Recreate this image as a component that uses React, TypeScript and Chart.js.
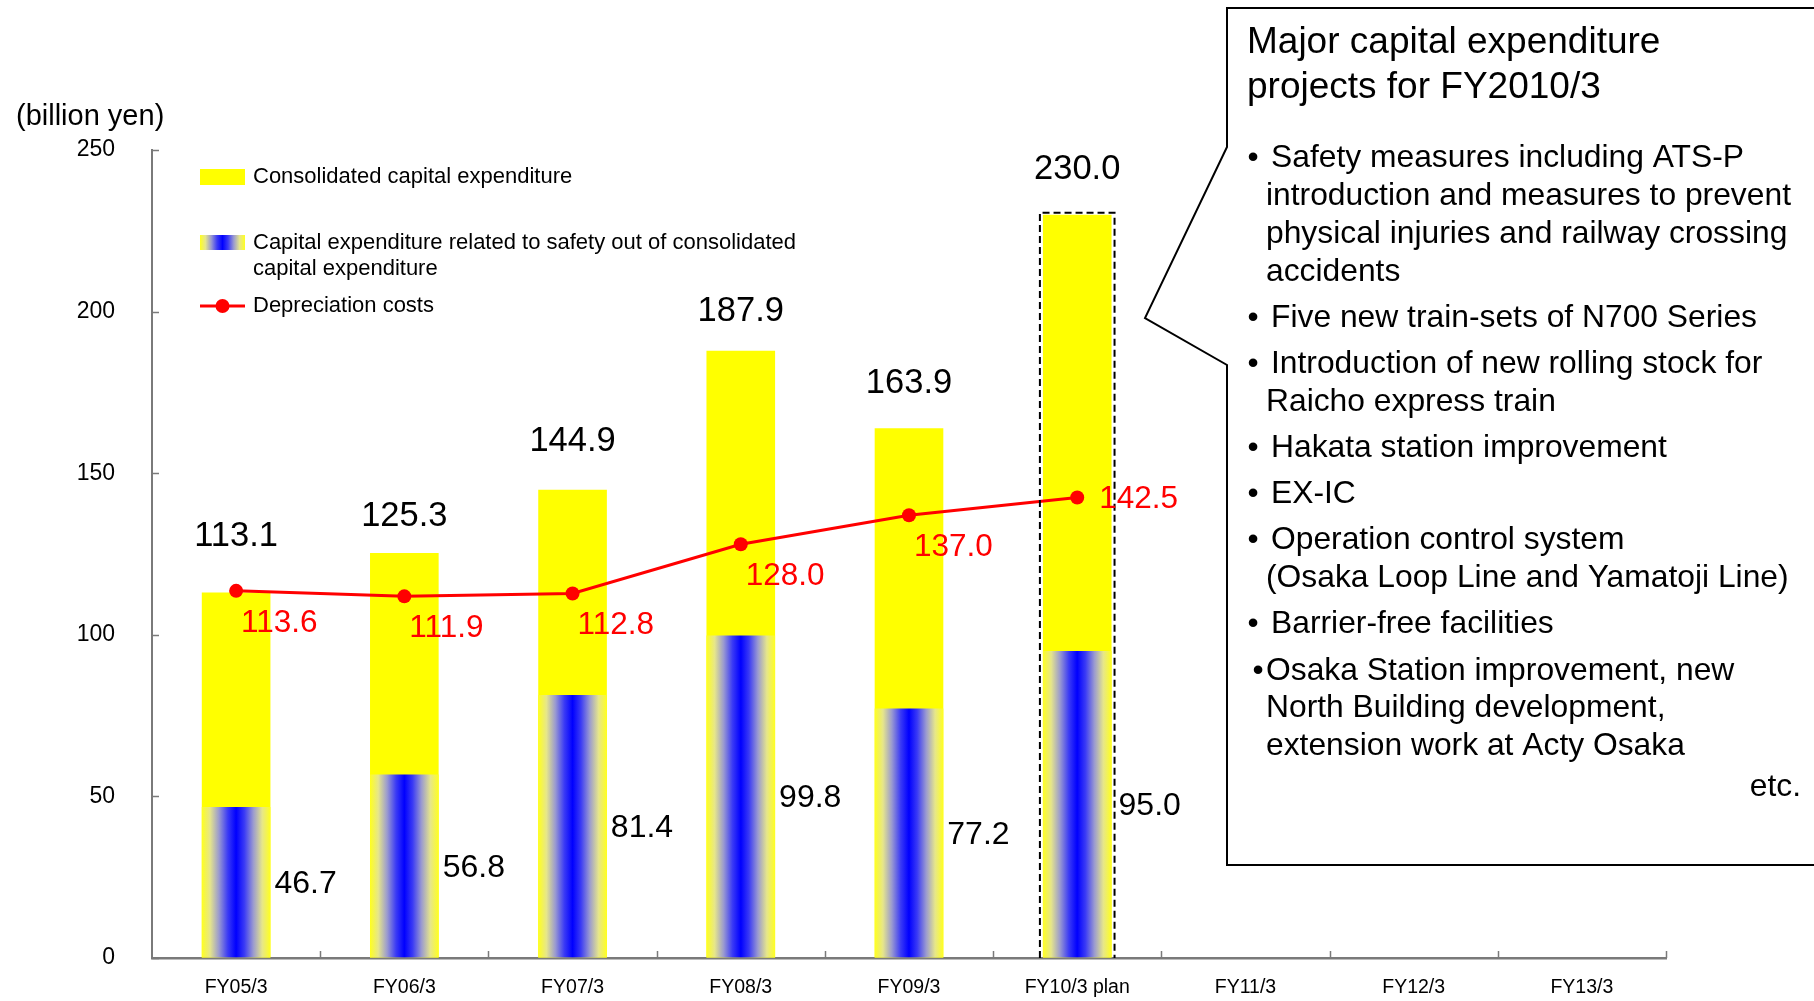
import { useEffect, useRef } from 'react';
import { Chart, registerables } from 'chart.js';

Chart.register(...registerables);

// ---- data ----
const categories = ['FY05/3', 'FY06/3', 'FY07/3', 'FY08/3', 'FY09/3', 'FY10/3 plan', 'FY11/3', 'FY12/3', 'FY13/3'];
const consolidatedCapex = [113.1, 125.3, 144.9, 187.9, 163.9, 230.0, null, null, null];
const safetyCapex = [46.7, 56.8, 81.4, 99.8, 77.2, 95.0, null, null, null];
const depreciationCosts = [113.6, 111.9, 112.8, 128.0, 137.0, 142.5, null, null, null];
const yTicks = [0, 50, 100, 150, 200, 250];
const PLAN_INDEX = 5;

const seriesNames = [
  ['Consolidated capital expenditure'],
  ['Capital expenditure related to safety out of consolidated', 'capital expenditure'],
  ['Depreciation costs'],
];

const calloutTitle = ['Major capital expenditure', 'projects for FY2010/3'];
const calloutItems = [
  ['Safety measures including ATS-P', 'introduction and measures to prevent', 'physical injuries and railway crossing', 'accidents'],
  ['Five new train-sets of N700 Series'],
  ['Introduction of new rolling stock for', 'Raicho express train'],
  ['Hakata station improvement'],
  ['EX-IC'],
  ['Operation control system', '(Osaka Loop Line and Yamatoji Line)'],
  ['Barrier-free facilities'],
  ['Osaka Station improvement, new', 'North Building development,', 'extension work at Acty Osaka'],
];

// ---- styling ----
const W = 1814;
const H = 1001;
const FONT = '"Liberation Sans", Arial, Helvetica, sans-serif';
const BAR_PCT = 0.408;
const YELLOW = '#ffff00';
const RED = '#ff0000';
const AXIS_GREY = '#7a7a7a';
// gap (px) between the top of each total bar and the centre of its value label
const totalLabelLift = [56, 37, 48, 39, 45, 45];

function safetyGradient(ctx: CanvasRenderingContext2D, x0: number, x1: number) {
  const g = ctx.createLinearGradient(x0, 0, x1, 0);
  g.addColorStop(0, '#ffff20');
  g.addColorStop(0.12, '#e6e68a');
  g.addColorStop(0.25, '#9a9ad0');
  g.addColorStop(0.38, '#3a3af5');
  g.addColorStop(0.5, '#0000ff');
  g.addColorStop(0.62, '#3a3af5');
  g.addColorStop(0.75, '#9a9ad0');
  g.addColorStop(0.88, '#e6e68a');
  g.addColorStop(1, '#ffff20');
  return g;
}

const safetyFill = (c: any) => {
  const chart = c.chart;
  const xs = chart.scales?.x;
  if (!chart.chartArea || !xs || c.type !== 'data') return '#0000ff';
  const cx = xs.getPixelForValue(c.dataIndex);
  const half = (xs.width / categories.length) * BAR_PCT / 2;
  return safetyGradient(chart.ctx, cx - half, cx + half);
};

const decorPlugin = {
  id: 'decor',
  afterDatasetsDraw(chart: any) {
    const { ctx, chartArea } = chart;
    const xs = chart.scales.x;
    const ys = chart.scales.y;
    const { bottom, left } = chartArea;

    ctx.save();
    // inward tick marks on both axes
    ctx.strokeStyle = AXIS_GREY;
    ctx.lineWidth = 1.5;
    for (let i = 1; i <= categories.length; i++) {
      const px = Math.round(xs.getPixelForValue(i - 0.5)) + 0.5;
      ctx.beginPath();
      ctx.moveTo(px, bottom);
      ctx.lineTo(px, bottom - 7);
      ctx.stroke();
    }
    yTicks.forEach((v) => {
      const py = Math.round(ys.getPixelForValue(v)) + 0.5;
      ctx.beginPath();
      ctx.moveTo(left, py);
      ctx.lineTo(left + 7, py);
      ctx.stroke();
    });

    const lineMeta = chart.getDatasetMeta(0);
    const safetyMeta = chart.getDatasetMeta(1);
    const totalMeta = chart.getDatasetMeta(2);

    // dashed outline around the planned year
    const plan = totalMeta.data[PLAN_INDEX];
    if (plan) {
      const l = plan.x - plan.width / 2 - 3;
      const r = plan.x + plan.width / 2 + 3;
      const t = plan.y - 2;
      ctx.strokeStyle = '#000';
      ctx.lineWidth = 2;
      ctx.setLineDash([7, 4]);
      ctx.beginPath();
      ctx.moveTo(l, bottom);
      ctx.lineTo(l, t);
      ctx.lineTo(r, t);
      ctx.lineTo(r, bottom);
      ctx.stroke();
      ctx.setLineDash([]);
    }

    ctx.textBaseline = 'middle';
    // totals above the bars
    ctx.fillStyle = '#000';
    ctx.textAlign = 'center';
    ctx.font = `34.5px ${FONT}`;
    totalMeta.data.forEach((el: any, i: number) => {
      const v = consolidatedCapex[i];
      if (v == null) return;
      ctx.fillText(v.toFixed(1), el.x, el.y - (totalLabelLift[i] ?? 45));
    });

    // safety values beside the gradient bars
    ctx.textAlign = 'left';
    ctx.font = `32px ${FONT}`;
    safetyMeta.data.forEach((el: any, i: number) => {
      const v = safetyCapex[i];
      if (v == null) return;
      const extra = i === PLAN_INDEX ? 7 : 4;
      ctx.fillText(v.toFixed(1), el.x + el.width / 2 + extra, (el.y + el.base) / 2 + 2);
    });

    // depreciation values in red
    ctx.fillStyle = RED;
    ctx.font = `31.5px ${FONT}`;
    lineMeta.data.forEach((el: any, i: number) => {
      const v = depreciationCosts[i];
      if (v == null) return;
      if (i === PLAN_INDEX) ctx.fillText(v.toFixed(1), el.x + 22, el.y + 2);
      else ctx.fillText(v.toFixed(1), el.x + 5, el.y + 32);
    });
    ctx.restore();
  },
  afterDraw(chart: any) {
    const { ctx } = chart;
    ctx.save();
    ctx.textBaseline = 'middle';
    ctx.textAlign = 'left';
    ctx.fillStyle = '#000';

    // unit caption
    ctx.font = `29px ${FONT}`;
    ctx.fillText('(billion yen)', 16, 117);

    // legend
    ctx.font = `22px ${FONT}`;
    ctx.fillStyle = YELLOW;
    ctx.fillRect(200, 169, 45, 16);
    ctx.fillStyle = safetyGradient(ctx, 200, 245);
    ctx.fillRect(200, 235, 45, 15);
    ctx.strokeStyle = RED;
    ctx.lineWidth = 3;
    ctx.beginPath();
    ctx.moveTo(200, 306);
    ctx.lineTo(245, 306);
    ctx.stroke();
    ctx.fillStyle = RED;
    ctx.beginPath();
    ctx.arc(222.5, 306, 7, 0, Math.PI * 2);
    ctx.fill();
    ctx.fillStyle = '#000';
    ctx.fillText(seriesNames[0][0], 253, 177);
    ctx.fillText(seriesNames[1][0], 253, 243);
    ctx.fillText(seriesNames[1][1], 253, 269);
    ctx.fillText(seriesNames[2][0], 253, 306);

    // callout box with pointer
    ctx.strokeStyle = '#000';
    ctx.lineWidth = 2;
    ctx.beginPath();
    ctx.moveTo(W + 10, 8);
    ctx.lineTo(1227, 8);
    ctx.lineTo(1227, 147);
    ctx.lineTo(1145, 318);
    ctx.lineTo(1227, 365);
    ctx.lineTo(1227, 865);
    ctx.lineTo(W + 10, 865);
    ctx.stroke();

    ctx.font = `37px ${FONT}`;
    ctx.fillText(calloutTitle[0], 1247, 43);
    ctx.fillText(calloutTitle[1], 1247, 88);

    ctx.font = `31.8px ${FONT}`;
    let y = 158.5;
    const lineStep = 37.8;
    const itemGap = 46.2;
    calloutItems.forEach((lines, k) => {
      const last = k === calloutItems.length - 1;
      ctx.textAlign = 'center';
      ctx.fillText('\u2022', last ? 1258 : 1253, y);
      ctx.textAlign = 'left';
      lines.forEach((t, j) => {
        const x = j === 0 && !last ? 1271 : 1266;
        ctx.fillText(t, x, y);
        if (j < lines.length - 1) y += lineStep;
      });
      y += itemGap;
    });
    ctx.textAlign = 'right';
    ctx.fillText('etc.', 1801, 787);
    ctx.restore();
  },
};

export default function App() {
  const ref = useRef<HTMLCanvasElement>(null);

  useEffect(() => {
    const canvas = ref.current;
    if (!canvas) return;
    const chart = new Chart(canvas, {
      type: 'bar',
      data: {
        labels: categories,
        datasets: [
          {
            type: 'line',
            label: seriesNames[2][0],
            data: depreciationCosts,
            borderColor: RED,
            backgroundColor: RED,
            borderWidth: 3,
            pointRadius: 7,
            pointHoverRadius: 7,
            pointBorderWidth: 0,
            pointBackgroundColor: RED,
            tension: 0,
            order: 0,
          } as any,
          {
            type: 'bar',
            label: seriesNames[1].join(' '),
            data: safetyCapex,
            backgroundColor: safetyFill,
            borderWidth: 0,
            grouped: false,
            barPercentage: BAR_PCT,
            categoryPercentage: 1,
            order: 1,
          } as any,
          {
            type: 'bar',
            label: seriesNames[0][0],
            data: consolidatedCapex,
            backgroundColor: YELLOW,
            borderWidth: 0,
            grouped: false,
            barPercentage: BAR_PCT,
            categoryPercentage: 1,
            order: 2,
          } as any,
        ],
      },
      options: {
        responsive: false,
        animation: false,
        devicePixelRatio: 1,
        layout: { padding: { left: 0, top: 150, right: 148, bottom: 0 } },
        plugins: {
          legend: { display: false },
          tooltip: { enabled: false },
        },
        scales: {
          x: {
            offset: true,
            grid: { display: true, drawOnChartArea: false, drawTicks: false },
            border: { display: true, color: AXIS_GREY, width: 2.5 },
            ticks: {
              color: '#000',
              font: { family: FONT, size: 19.5 },
              padding: 18,
              maxRotation: 0,
              autoSkip: false,
            },
            afterFit: (s: any) => {
              s.height = 43;
            },
          },
          y: {
            min: 0,
            max: 250,
            afterBuildTicks: (s: any) => {
              s.ticks = yTicks.map((v) => ({ value: v }));
            },
            ticks: {
              color: '#000',
              font: { family: FONT, size: 23 },
              padding: 37,
            },
            grid: {
              display: true,
              drawOnChartArea: false,
              drawTicks: false,
            },
            border: { display: true, color: AXIS_GREY, width: 2 },
            afterFit: (s: any) => {
              s.width = 152;
              // the axis box alone sets the plot edges; labels may overhang
              s.paddingTop = 0;
              s.paddingBottom = 0;
            },
          },
        },
      } as any,
      plugins: [decorPlugin],
    });
    return () => chart.destroy();
  }, []);

  return (
    <div style={{ position: 'fixed', left: 0, top: 0, width: W, height: H, background: '#fff' }}>
      <canvas ref={ref} width={W} height={H} style={{ display: 'block', width: W, height: H }} />
    </div>
  );
}
